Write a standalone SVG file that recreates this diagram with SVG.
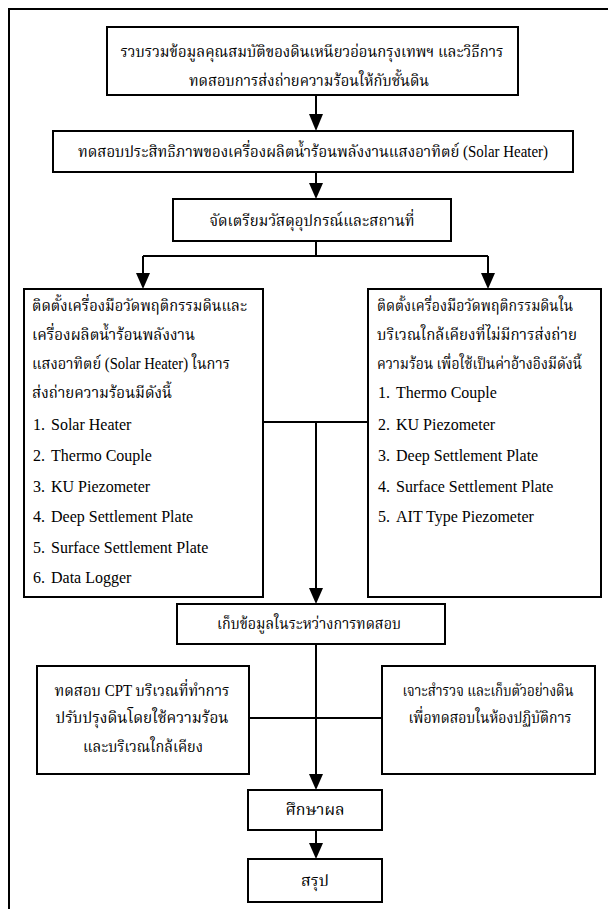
<svg xmlns="http://www.w3.org/2000/svg" width="608" height="909" viewBox="0 0 608 909">
<defs>
<style>
.box{fill:#fff;stroke:#000;stroke-width:2}
.ln{fill:none;stroke:#000;stroke-width:2}
.ah{fill:#000}
.t{font-family:"Liberation Serif","Noto Serif Thai","Noto Sans Thai","Tlwg Typo",serif;font-size:16px;fill:#000}
.th{font-size:16px}
.sm{font-size:15px}
.c{text-anchor:middle}
</style>
</defs>
<rect x="0" y="0" width="608" height="909" fill="#fff"/>
<path class="ln" d="M9,909 V9 H610"/>
<g id="connectors">
<path class="ln" d="M316,95 V114"/>
<path class="ah" d="M309,114 L323,114 L316,131 Z"/>
<path class="ln" d="M316,172 V183"/>
<path class="ah" d="M309,183 L323,183 L316,199 Z"/>
<path class="ln" d="M316,241 V256 M143,256 H488 M143,256 V273 M488,256 V273"/>
<path class="ah" d="M136,273 L150,273 L143,289 Z"/>
<path class="ah" d="M481,273 L495,273 L488,289 Z"/>
<path class="ln" d="M263,422 H368 M316,422 V588"/>
<path class="ah" d="M309,588 L323,588 L316,604 Z"/>
<path class="ln" d="M316,644 V774 M249,718 H382"/>
<path class="ah" d="M309,774 L323,774 L316,790 Z"/>
<path class="ln" d="M316,830 V843"/>
<path class="ah" d="M309,843 L323,843 L316,859 Z"/>
</g>
<g id="n1">
<rect class="box" x="107" y="27" width="411" height="68"/>
<text class="t th c" x="312" y="57" textLength="383" lengthAdjust="spacingAndGlyphs">รวบรวมข้อมูลคุณสมบัติของดินเหนียวอ่อนกรุงเทพฯ และวิธีการ</text>
<text class="t th c" x="309" y="86" textLength="240" lengthAdjust="spacingAndGlyphs">ทดสอบการส่งถ่ายความร้อนให้กับชั้นดิน</text>
</g>
<g id="n2">
<rect class="box" x="53" y="131" width="520" height="41"/>
<text class="t th c" x="313" y="157" textLength="470" lengthAdjust="spacingAndGlyphs">ทดสอบประสิทธิภาพของเครื่องผลิตน้ำร้อนพลังงานแสงอาทิตย์ (Solar Heater)</text>
</g>
<g id="n3">
<rect class="box" x="173" y="199" width="278" height="42"/>
<text class="t th c" x="312" y="226" textLength="205" lengthAdjust="spacingAndGlyphs">จัดเตรียมวัสดุอุปกรณ์และสถานที่</text>
</g>
<g id="n4">
<rect class="box" x="24" y="289" width="239" height="308"/>
<text class="t th" x="32" y="311" textLength="215" lengthAdjust="spacingAndGlyphs">ติดตั้งเครื่องมือวัดพฤติกรรมดินและ</text>
<text class="t th" x="32" y="340" textLength="163" lengthAdjust="spacingAndGlyphs">เครื่องผลิตน้ำร้อนพลังงาน</text>
<text class="t th" x="32" y="369" textLength="198" lengthAdjust="spacingAndGlyphs">แสงอาทิตย์ (Solar Heater) ในการ</text>
<text class="t th" x="32" y="398" textLength="140" lengthAdjust="spacingAndGlyphs">ส่งถ่ายความร้อนมีดังนี้</text>
<text class="t" x="33" y="430">1.</text><text class="t" x="51" y="430">Solar Heater</text>
<text class="t" x="33" y="461">2.</text><text class="t" x="51" y="461">Thermo Couple</text>
<text class="t" x="33" y="492">3.</text><text class="t" x="51" y="492">KU Piezometer</text>
<text class="t" x="33" y="522">4.</text><text class="t" x="51" y="522">Deep Settlement Plate</text>
<text class="t" x="33" y="553">5.</text><text class="t" x="51" y="553">Surface Settlement Plate</text>
<text class="t" x="33" y="583">6.</text><text class="t" x="51" y="583">Data Logger</text>
</g>
<g id="n5">
<rect class="box" x="368" y="289" width="233" height="308"/>
<text class="t sm" x="377" y="311" textLength="196" lengthAdjust="spacingAndGlyphs">ติดตั้งเครื่องมือวัดพฤติกรรมดินใน</text>
<text class="t sm" x="377" y="340" textLength="200" lengthAdjust="spacingAndGlyphs">บริเวณใกล้เคียงที่ไม่มีการส่งถ่าย</text>
<text class="t sm" x="377" y="369" textLength="205" lengthAdjust="spacingAndGlyphs">ความร้อน เพื่อใช้เป็นค่าอ้างอิงมีดังนี้</text>
<text class="t" x="378" y="398">1.</text><text class="t" x="396" y="398">Thermo Couple</text>
<text class="t" x="378" y="430">2.</text><text class="t" x="396" y="430">KU Piezometer</text>
<text class="t" x="378" y="461">3.</text><text class="t" x="396" y="461">Deep Settlement Plate</text>
<text class="t" x="378" y="492">4.</text><text class="t" x="396" y="492">Surface Settlement Plate</text>
<text class="t" x="378" y="522">5.</text><text class="t" x="396" y="522">AIT Type Piezometer</text>
</g>
<g id="n6">
<rect class="box" x="177" y="604" width="268" height="40"/>
<text class="t th c" x="309" y="629" textLength="184" lengthAdjust="spacingAndGlyphs">เก็บข้อมูลในระหว่างการทดสอบ</text>
</g>
<g id="n7">
<rect class="box" x="37" y="666" width="212" height="108"/>
<text class="t th c" x="142" y="696" textLength="175" lengthAdjust="spacingAndGlyphs">ทดสอบ CPT บริเวณที่ทำการ</text>
<text class="t th c" x="142" y="723" textLength="173" lengthAdjust="spacingAndGlyphs">ปรับปรุงดินโดยใช้ความร้อน</text>
<text class="t th c" x="143" y="752" textLength="120" lengthAdjust="spacingAndGlyphs">และบริเวณใกล้เคียง</text>
</g>
<g id="n8">
<rect class="box" x="382" y="666" width="213" height="108"/>
<text class="t th c" x="488" y="696" textLength="171" lengthAdjust="spacingAndGlyphs">เจาะสำรวจ และเก็บตัวอย่างดิน</text>
<text class="t th c" x="490" y="723" textLength="163" lengthAdjust="spacingAndGlyphs">เพื่อทดสอบในห้องปฏิบัติการ</text>
</g>
<g id="n9">
<rect class="box" x="248" y="790" width="134" height="40"/>
<text class="t th c" x="315" y="815">ศึกษาผล</text>
</g>
<g id="n10">
<rect class="box" x="248" y="859" width="134" height="43"/>
<text class="t th c" x="315" y="886">สรุป</text>
</g>
</svg>
